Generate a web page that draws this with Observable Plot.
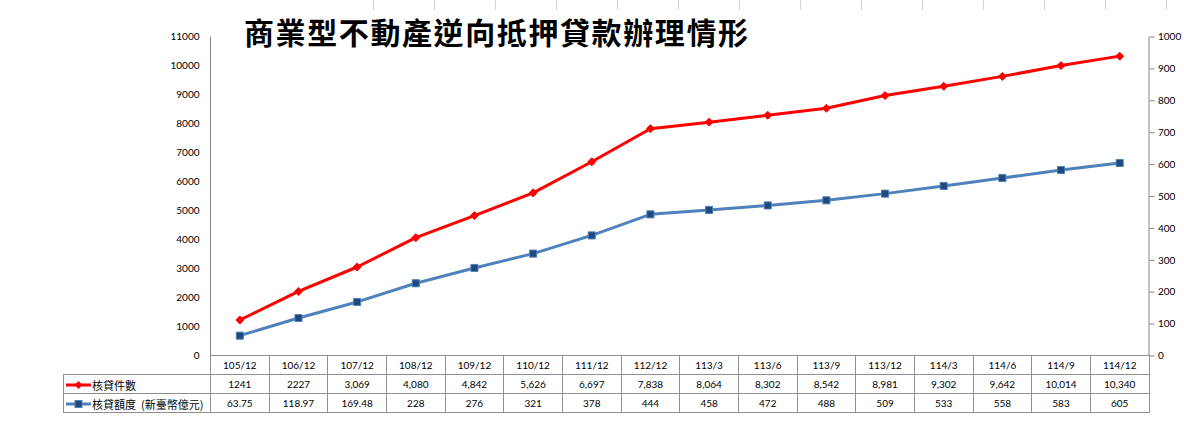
<!DOCTYPE html>
<html>
<head>
<meta charset="utf-8">
<script src="https://cdn.jsdelivr.net/npm/d3@7"></script>
<script src="https://cdn.jsdelivr.net/npm/@observablehq/plot@0.6"></script>
<style>
  html, body { margin: 0; padding: 0; background: #fff; }
  #wrap { position: relative; width: 1184px; height: 427px; overflow: hidden; background: #fff; }
  #cells { position: absolute; left: 373px; top: 0; width: 811px; height: 10px;
    background: repeating-linear-gradient(to right, #d4d4d4 0 1px, transparent 1px 61px); }
  #title { position: absolute; left: 244px; top: 16px; font-family: "Noto Sans CJK TC", sans-serif;
    font-size: 30px; font-weight: 700; letter-spacing: 1.6px; line-height: 1; color: #000; white-space: nowrap; }
  #chart { position: absolute; left: 0; top: 0; }
  #tbl { position: absolute; left: 63px; top: 355px; border-collapse: collapse; table-layout: fixed;
    font-family: Lato, sans-serif; font-size: 10px; color: #000; }
  #tbl td { border: 1px solid #8f8f8f; height: 17.5px; padding: 0; text-align: center; white-space: nowrap; }
  #tbl td.leg { text-align: left; font-family: "Noto Sans CJK TC", sans-serif; font-size: 11px; padding-left: 1px; white-space: pre; }
  #tbl td.blank { border-top: none; border-left: none; }
  #tbl svg { vertical-align: middle; margin-right: 1px; }
</style>
</head>
<body>
<div id="wrap">
  <div id="cells"></div>
  <div id="chart"></div>
  <div id="title">商業型不動產逆向抵押貸款辦理情形</div>
  <table id="tbl"></table>
</div>
<script>
const categories = ["105/12","106/12","107/12","108/12","109/12","110/12","111/12","112/12","113/3","113/6","113/9","113/12","114/3","114/6","114/9","114/12"];
const cases = [1241,2227,3069,4080,4842,5626,6697,7838,8064,8302,8542,8981,9302,9642,10014,10340];
const caseLabels = ["1241","2227","3,069","4,080","4,842","5,626","6,697","7,838","8,064","8,302","8,542","8,981","9,302","9,642","10,014","10,340"];
const amounts = [63.75,118.97,169.48,228,276,321,378,444,458,472,488,509,533,558,583,605];
const amountLabels = ["63.75","118.97","169.48","228","276","321","378","444","458","472","488","509","533","558","583","605"];
const leftTicks = [0,1000,2000,3000,4000,5000,6000,7000,8000,9000,10000,11000];
const rightTicks = [0,100,200,300,400,500,600,700,800,900,1000];
const seriesNames = ["核貸件數","核貸額度  (新臺幣億元)"];

const leftMax = 11000, rightMax = 1000, ratio = leftMax / rightMax;
const rows = categories.map((c, i) => ({cat: c, xi: i + 0.5, cases: cases[i], amt: amounts[i] * ratio}));

const chart = Plot.plot({
  width: 1184, height: 372,
  marginLeft: 210, marginRight: 35.5, marginTop: 36.5, marginBottom: 16.5,
  x: {domain: [0, categories.length], axis: null},
  y: {domain: [0, leftMax], axis: null},
  style: {fontFamily: "Lato, sans-serif", fontSize: "10px", color: "#000", background: "transparent"},
  marks: [
    Plot.ruleX([0, categories.length], {stroke: "#868686", strokeWidth: 1}),
    Plot.axisY(leftTicks, {anchor: "left", tickSize: 0, tickPadding: 11, tickFormat: d => String(d), fill: "#000"}),
    Plot.axisY(rightTicks.map(d => d * ratio), {anchor: "right", tickSize: 5, tickPadding: 4, stroke: "#868686", fill: "#000", tickFormat: d => String(Math.round(d / ratio))}),
    Plot.line(rows, {x: "xi", y: "amt", stroke: "#4F81BD", strokeWidth: 3}),
    Plot.dot(rows, {x: "xi", y: "amt", symbol: "square", r: 4, fill: "#1F497D", stroke: "#4F81BD", strokeWidth: 1}),
    Plot.line(rows, {x: "xi", y: "cases", stroke: "#FF0000", strokeWidth: 3}),
    Plot.dot(rows, {x: "xi", y: "cases", symbol: "diamond2", r: 3.6, fill: "#FF0000", stroke: "#FF0000", strokeWidth: 1})
  ]
});
document.getElementById("chart").appendChild(chart);

// data table under the chart
const tbl = document.getElementById("tbl");
const colW = (1148.5 - 210) / categories.length;
const cg = document.createElement("colgroup");
const c0 = document.createElement("col"); c0.style.width = "147px"; cg.appendChild(c0);
categories.forEach(() => { const c = document.createElement("col"); c.style.width = colW + "px"; cg.appendChild(c); });
tbl.appendChild(cg);
tbl.style.width = (147 + colW * categories.length) + "px";

const hr = document.createElement("tr");
const blank = document.createElement("td"); blank.className = "blank"; hr.appendChild(blank);
categories.forEach(c => { const td = document.createElement("td"); td.textContent = c; hr.appendChild(td); });
tbl.appendChild(hr);

function legendSwatch(color, markerFill, symbol) {
  const ns = "http://www.w3.org/2000/svg";
  const s = document.createElementNS(ns, "svg");
  s.setAttribute("width", 26); s.setAttribute("height", 10);
  const l = document.createElementNS(ns, "line");
  l.setAttribute("x1", 1); l.setAttribute("x2", 26); l.setAttribute("y1", 5); l.setAttribute("y2", 5);
  l.setAttribute("stroke", color); l.setAttribute("stroke-width", 3);
  s.appendChild(l);
  let m;
  if (symbol === "diamond") {
    m = document.createElementNS(ns, "path");
    m.setAttribute("d", "M13.5,1 L17.5,5 L13.5,9 L9.5,5 Z");
    m.setAttribute("fill", markerFill);
  } else {
    m = document.createElementNS(ns, "rect");
    m.setAttribute("x", 10); m.setAttribute("y", 1.5); m.setAttribute("width", 7); m.setAttribute("height", 7);
    m.setAttribute("fill", markerFill); m.setAttribute("stroke", color); m.setAttribute("stroke-width", 1);
  }
  s.appendChild(m);
  return s;
}

const series = [
  {name: seriesNames[0], labels: caseLabels, color: "#FF0000", mfill: "#FF0000", sym: "diamond"},
  {name: seriesNames[1], labels: amountLabels, color: "#4F81BD", mfill: "#1F497D", sym: "square"}
];
series.forEach(s => {
  const tr = document.createElement("tr");
  const lg = document.createElement("td"); lg.className = "leg";
  lg.appendChild(legendSwatch(s.color, s.mfill, s.sym));
  const sp = document.createElement("span"); sp.textContent = s.name; sp.style.verticalAlign = "middle";
  lg.appendChild(sp);
  tr.appendChild(lg);
  s.labels.forEach(v => { const td = document.createElement("td"); td.textContent = v; tr.appendChild(td); });
  tbl.appendChild(tr);
});
</script>
</body>
</html>
